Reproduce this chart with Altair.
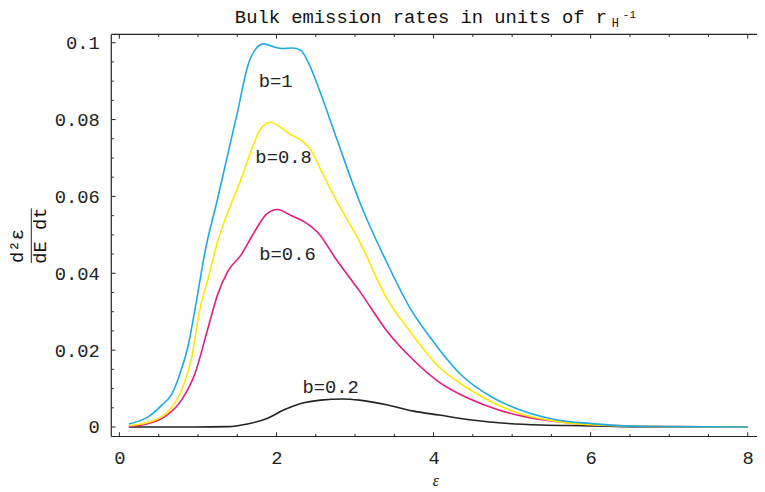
import altair as alt
import pandas as pd

# ---------------- data ----------------
eps_b1 = [0.12, 0.37, 0.54, 0.67, 0.77, 0.88, 0.98, 1.09, 1.25, 1.38, 1.51, 1.63,
          1.74, 1.84, 1.97, 2.07, 2.20, 2.31, 2.41, 2.56, 2.77, 3.06, 3.40, 3.71, 3.99,
          4.36, 4.74, 5.16, 5.58, 6.0, 6.42, 7.0, 8.0]
rate_b1 = [0.0008, 0.0027, 0.0057, 0.0087, 0.0138, 0.0216, 0.0327, 0.0456, 0.0594,
           0.0710, 0.0826, 0.0937, 0.0985, 0.0997, 0.0989, 0.0985, 0.0986, 0.0980, 0.0946,
           0.0869, 0.0748, 0.0585, 0.0430, 0.0306, 0.0224, 0.0134, 0.0078, 0.0040, 0.0018,
           0.0009, 0.0003, 0.0001, 0.0]

eps_b08 = [0.12, 0.46, 0.67, 0.79, 0.92, 1.02, 1.13, 1.25, 1.38, 1.55, 1.67, 1.78, 1.93,
           2.03, 2.18, 2.33, 2.43, 2.56, 2.75, 3.06, 3.40, 3.73, 4.07, 4.41, 4.74, 5.16,
           5.58, 6.0, 6.42, 7.0, 8.0]
rate_b08 = [0.0003, 0.0018, 0.0052, 0.0095, 0.0181, 0.0302, 0.0387, 0.0482, 0.0559, 0.0645,
            0.0714, 0.0770, 0.0793, 0.0783, 0.0761, 0.0744, 0.0723, 0.0671, 0.0594, 0.0482,
            0.0336, 0.0241, 0.0156, 0.0104, 0.0065, 0.0031, 0.0014, 0.0006, 0.0003, 0.0001, 0.0]

eps_b06 = [0.12, 0.37, 0.58, 0.79, 0.96, 1.13, 1.25, 1.38, 1.55, 1.72, 1.88, 2.01, 2.18,
           2.39, 2.54, 2.75, 3.06, 3.42, 3.73, 4.07, 4.45, 4.83, 5.16, 5.58, 6.0, 6.42, 7.0, 8.0]
rate_b06 = [0.0001, 0.0009, 0.0027, 0.0070, 0.0138, 0.0259, 0.0344, 0.0405, 0.0448, 0.0508,
            0.0555, 0.0566, 0.0551, 0.0529, 0.0503, 0.0439, 0.0353, 0.0246, 0.0177, 0.0117,
            0.0074, 0.0044, 0.0027, 0.0014, 0.0006, 0.0003, 0.0001, 0.0]

eps_b02 = [0.12, 0.96, 1.38, 1.63, 1.88, 2.09, 2.31, 2.56, 2.85, 3.06, 3.40, 3.73, 4.07,
           4.49, 4.95, 5.37, 6.0, 6.42, 7.0, 8.0]
rate_b02 = [0.0, 0.0, 0.0001, 0.0008, 0.0022, 0.0044, 0.0061, 0.0070, 0.0073, 0.0070,
            0.0058, 0.0042, 0.0031, 0.0018, 0.0009, 0.0005, 0.0003, 0.0001, 0.0, 0.0]

series_names = ["b=0.2", "b=0.6", "b=0.8", "b=1"]
series_colors = ["#222222", "#E8197F", "#FFE800", "#1CAAE6"]

x_major = [0, 2, 4, 6, 8]
x_minor = [0.5, 1, 1.5, 2.5, 3, 3.5, 4.5, 5, 5.5, 6.5, 7, 7.5]
y_major = [0, 0.02, 0.04, 0.06, 0.08, 0.1]
y_minor = [0.005, 0.01, 0.015, 0.025, 0.03, 0.035, 0.045, 0.05, 0.055,
           0.065, 0.07, 0.075, 0.085, 0.09, 0.095]

curve_labels = ["b=1", "b=0.8", "b=0.6", "b=0.2"]
label_x = [1.99, 2.09, 2.14, 2.69]
label_y = [0.0886, 0.0688, 0.0435, 0.0089]

title_main = "Bulk emission rates in units of r"
title_sub = "H"
title_sup = "-1"
y_num = "d\u00b2\u03b5"
y_den = "dE dt"
x_title = "\u03b5"

# ---------------- layout ----------------
W, H = 652, 406
xs = alt.Scale(domain=[-0.1034, 8.118], nice=False, zero=False)
ys = alt.Scale(domain=[-0.00247, 0.10216], nice=False, zero=False)
MONO = "Liberation Mono"

AX = alt.Axis(values=x_major, format="d", ticks=False, tickSize=0, domain=False,
              grid=False, labelFont=MONO, labelFontSize=19, labelColor="#222",
              labelPadding=12, title=None)
AY = alt.Axis(values=y_major, format="~g", ticks=False, tickSize=0, domain=False,
              grid=False, labelFont=MONO, labelFontSize=19, labelColor="#222",
              labelPadding=12, title=None)

def X(f):
    return alt.X(f, scale=xs, axis=AX, title=None)

def Y(f):
    return alt.Y(f, scale=ys, axis=AY, title=None)

rows = []
for name, xs_, ys_ in [("b=0.2", eps_b02, rate_b02), ("b=0.6", eps_b06, rate_b06),
                       ("b=0.8", eps_b08, rate_b08), ("b=1", eps_b1, rate_b1)]:
    for a, b in zip(xs_, ys_):
        rows.append({"series": name, "e": a, "r": b})
df = pd.DataFrame(rows)

lines = alt.Chart(df).mark_line(strokeWidth=1.6, interpolate="monotone").encode(
    x=X("e:Q"), y=Y("r:Q"),
    color=alt.Color("series:N", scale=alt.Scale(domain=series_names, range=series_colors),
                    legend=None),
    detail="series:N",
)

TL, TS = 4.3, 2.6
def xticks(vals, top, ln):
    d = pd.DataFrame({"v": vals})
    y0, y1 = (0, ln) if top else (H, H - ln)
    return alt.Chart(d).mark_rule(color="#222", strokeWidth=1).encode(
        x=X("v:Q"), y=alt.value(y0), y2=alt.value(y1))

def yticks(vals, ln):
    d = pd.DataFrame({"v": vals})
    return alt.Chart(d).mark_rule(color="#222", strokeWidth=1).encode(
        y=Y("v:Q"), x=alt.value(0), x2=alt.value(ln))

frame_df = pd.DataFrame({"k": [1]})
frame_left = alt.Chart(frame_df).mark_rule(color="#222", strokeWidth=1.2).encode(
    x=alt.value(0), y=alt.value(0), y2=alt.value(H))
frame_top = alt.Chart(frame_df).mark_rule(color="#222", strokeWidth=1.2).encode(
    y=alt.value(0), x=alt.value(0), x2=alt.value(W))
frame_bottom = alt.Chart(frame_df).mark_rule(color="#222", strokeWidth=1.2).encode(
    y=alt.value(H), x=alt.value(0), x2=alt.value(W))

lab_df = pd.DataFrame({"t": curve_labels, "x": label_x, "y": label_y})
labels = alt.Chart(lab_df).mark_text(font=MONO, fontSize=19, color="#222",
                                     align="center", baseline="alphabetic").encode(
    x=X("x:Q"), y=Y("y:Q"), text="t:N")

def txt(s, x, y, size, align="left", angle=0, font=MONO, italic=False):
    d = pd.DataFrame({"t": [s], "x": [x], "y": [y]})
    kw = dict(font=font, fontSize=size, color="#111", align=align, baseline="alphabetic")
    if angle:
        kw["angle"] = angle
    if italic:
        kw["fontStyle"] = "italic"
    return alt.Chart(d).mark_text(**kw).encode(x=X("x:Q"), y=Y("y:Q"), text="t:N")

t_main = txt(title_main, 1.47, 0.10508, 19)
t_sub = txt(title_sub, 6.27, 0.10410, 12)
t_sup = txt(title_sup, 6.41, 0.10637, 11)
t_num = txt(y_num, -1.233, 0.0471, 19, align="center", angle=270)
t_den = txt(y_den, -0.940, 0.0498, 19, align="center", angle=270)
frac_df = pd.DataFrame({"x": [-1.122], "y": [0.0427], "y2": [0.0569]})
frac = alt.Chart(frac_df).mark_rule(color="#222", strokeWidth=1).encode(
    x=X("x:Q"), y=Y("y:Q"), y2="y2:Q")
t_x = txt(x_title, 4.03, -0.01528, 16, align="center", font="Liberation Serif", italic=True)

chart = alt.layer(
    lines,
    xticks(x_major, False, TL), xticks(x_minor, False, TS),
    xticks(x_major, True, TL), xticks(x_minor, True, TS),
    yticks(y_major, TL), yticks(y_minor, TS),
    frame_left, frame_top, frame_bottom,
    labels, t_main, t_sub, t_sup, t_num, t_den, frac, t_x,
).properties(
    width=W, height=H,
    autosize=alt.AutoSizeParams(type="none"),
    padding={"left": 104.3, "top": 24.3, "right": 0, "bottom": 54},
    background="white",
).configure_view(stroke=None)

chart.save("out.html", embed_options={"renderer": "svg", "actions": False})
